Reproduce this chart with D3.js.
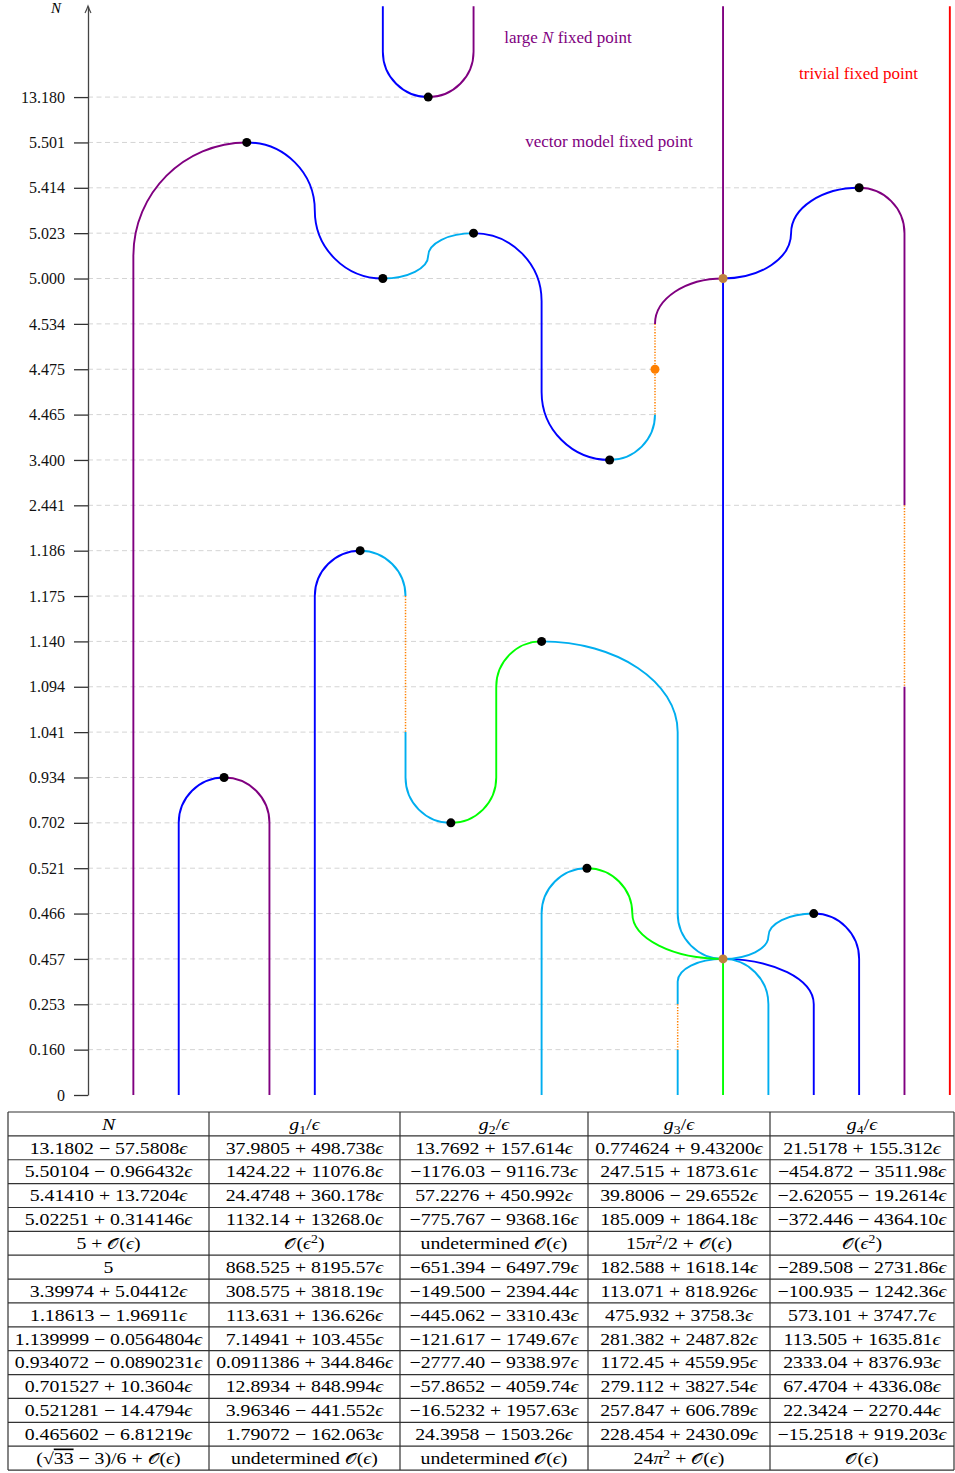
<!DOCTYPE html>
<html>
<head>
<meta charset="utf-8">
<script src="https://cdn.jsdelivr.net/npm/d3@7"></script>
<style>
  body { margin: 0; background: #fff; }
  text { font-family: "Liberation Serif", "DejaVu Serif", serif; }
</style>
</head>
<body>
<div id="chart"></div>
<script>
// N values on the vertical axis (one row each, bottom to top)
let levels = ["0", "0.160", "0.253", "0.457", "0.466", "0.521", "0.702", "0.934", "1.041", "1.094",
              "1.140", "1.175", "1.186", "2.441", "3.400", "4.465", "4.475", "4.534", "5.000", "5.023",
              "5.414", "5.501", "13.180"];
// column where the dashed guide of each row stops
let guideEnds = [null, 13, 13, 14, 16, 11, 8, 3, 7, 18, 10, 7, 6, 18, 11.5, 12.5, 12.5, 12.5, 14, 8.5, 17, 3.5, 7.5];

// branches in (column, row) units: kind, start, then steps
// "v" straight, "hv" leaves horizontally and arrives vertically, "vh" the other way round
let branches = [
  ["violet", [1, 0], ["v", 1, 18.5], ["vh", 3.5, 21]],
  ["violet", [3, 7], ["hv", 4, 6], ["v", 4, 0]],
  ["violet", [7.5, 22], ["hv", 8.5, 23], ["v", 8.5, 24]],
  ["violet", [12.5, 17], ["vh", 14, 18]],
  ["violet", [14, 24], ["v", 14, 18]],
  ["violet", [17, 20], ["hv", 18, 19], ["v", 18, 13]],
  ["violet", [18, 9], ["v", 18, 0]],
  ["blue", [3.5, 21], ["hv", 5, 19.5], ["vh", 6.5, 18]],
  ["blue", [6.5, 24], ["v", 6.5, 23], ["vh", 7.5, 22]],
  ["blue", [8.5, 19], ["hv", 10, 17.5], ["v", 10, 15.5], ["vh", 11.5, 14]],
  ["blue", [14, 18], ["hv", 15.5, 19], ["vh", 17, 20]],
  ["blue", [14, 18], ["v", 14, 3]],
  ["blue", [2, 0], ["v", 2, 6], ["vh", 3, 7]],
  ["blue", [5, 0], ["v", 5, 11], ["vh", 6, 12]],
  ["blue", [16, 4], ["hv", 17, 3], ["v", 17, 0]],
  ["blue", [14, 3], ["hv", 16, 2], ["v", 16, 0]],
  ["cyan", [6.5, 18], ["hv", 7.5, 18.5], ["vh", 8.5, 19]],
  ["cyan", [11.5, 14], ["hv", 12.5, 15]],
  ["cyan", [6, 12], ["hv", 7, 11]],
  ["cyan", [7, 8], ["v", 7, 7], ["vh", 8, 6]],
  ["cyan", [10, 10], ["hv", 13, 8], ["v", 13, 4], ["vh", 14, 3]],
  ["cyan", [10, 0], ["v", 10, 4], ["vh", 11, 5]],
  ["cyan", [14, 3], ["hv", 15, 3.5], ["vh", 16, 4]],
  ["cyan", [14, 3], ["hv", 13, 2.5], ["v", 13, 2]],
  ["cyan", [13, 1], ["v", 13, 0]],
  ["cyan", [14, 3], ["hv", 15, 2], ["v", 15, 0]],
  ["green", [8, 6], ["hv", 9, 7], ["v", 9, 9], ["vh", 10, 10]],
  ["green", [11, 5], ["hv", 12, 4], ["vh", 14, 3]],
  ["green", [14, 3], ["v", 14, 0]],
  ["gap", [12.5, 15], ["v", 12.5, 17]],
  ["gap", [7, 11], ["v", 7, 8]],
  ["gap", [18, 13], ["v", 18, 9]],
  ["gap", [13, 2], ["v", 13, 1]],
  ["trivial", [19, 24], ["v", 19, 0]]
];

let fixedPoints = [[7.5, 22], [3.5, 21], [6.5, 18], [8.5, 19], [17, 20], [11.5, 14],
                   [6, 12], [3, 7], [8, 6], [10, 10], [11, 5], [16, 4]];
let specialPoints = [[12.5, 16, "gap"], [14, 18, "meet"], [14, 3, "meet"]];

let tableHeader = ["N", "g_{1}/ϵ", "g_{2}/ϵ", "g_{3}/ϵ", "g_{4}/ϵ"];
let tableRows = [
  ["13.1802 − 57.5808ϵ", "37.9805 + 498.738ϵ", "13.7692 + 157.614ϵ", "0.774624 + 9.43200ϵ", "21.5178 + 155.312ϵ"],
  ["5.50104 − 0.966432ϵ", "1424.22 + 11076.8ϵ", "−1176.03 − 9116.73ϵ", "247.515 + 1873.61ϵ", "−454.872 − 3511.98ϵ"],
  ["5.41410 + 13.7204ϵ", "24.4748 + 360.178ϵ", "57.2276 + 450.992ϵ", "39.8006 − 29.6552ϵ", "−2.62055 − 19.2614ϵ"],
  ["5.02251 + 0.314146ϵ", "1132.14 + 13268.0ϵ", "−775.767 − 9368.16ϵ", "185.009 + 1864.18ϵ", "−372.446 − 4364.10ϵ"],
  ["5 + 𝒪(ϵ)", "𝒪(ϵ^{2})", "undetermined 𝒪(ϵ)", "15π^{2}/2 + 𝒪(ϵ)", "𝒪(ϵ^{2})"],
  ["5", "868.525 + 8195.57ϵ", "−651.394 − 6497.79ϵ", "182.588 + 1618.14ϵ", "−289.508 − 2731.86ϵ"],
  ["3.39974 + 5.04412ϵ", "308.575 + 3818.19ϵ", "−149.500 − 2394.44ϵ", "113.071 + 818.926ϵ", "−100.935 − 1242.36ϵ"],
  ["1.18613 − 1.96911ϵ", "113.631 + 136.626ϵ", "−445.062 − 3310.43ϵ", "475.932 + 3758.3ϵ", "573.101 + 3747.7ϵ"],
  ["1.139999 − 0.0564804ϵ", "7.14941 + 103.455ϵ", "−121.617 − 1749.67ϵ", "281.382 + 2487.82ϵ", "113.505 + 1635.81ϵ"],
  ["0.934072 − 0.0890231ϵ", "0.0911386 + 344.846ϵ", "−2777.40 − 9338.97ϵ", "1172.45 + 4559.95ϵ", "2333.04 + 8376.93ϵ"],
  ["0.701527 + 10.3604ϵ", "12.8934 + 848.994ϵ", "−57.8652 − 4059.74ϵ", "279.112 + 3827.54ϵ", "67.4704 + 4336.08ϵ"],
  ["0.521281 − 14.4794ϵ", "3.96346 − 441.552ϵ", "−16.5232 + 1957.63ϵ", "257.847 + 606.789ϵ", "22.3424 − 2270.44ϵ"],
  ["0.465602 − 6.81219ϵ", "1.79072 − 162.063ϵ", "24.3958 − 1503.26ϵ", "228.454 + 2430.09ϵ", "−15.2518 + 919.203ϵ"],
  ["(√{33} − 3)/6 + 𝒪(ϵ)", "undetermined 𝒪(ϵ)", "undetermined 𝒪(ϵ)", "24π^{2} + 𝒪(ϵ)", "𝒪(ϵ)"]
];

let colour = d3.scaleOrdinal()
  .domain(["violet", "blue", "cyan", "green", "gap", "trivial", "meet"])
  .range(["#800080", "#0000ff", "#00aeef", "#00ff00", "#ff8000", "#ff0000", "#bf8040"]);

const K = 0.5523;

function go(){
  let width = 955, height = 1473;

  let svg = d3.select("#chart").append("svg")
    .attr("width", width)
    .attr("height", height);

  let x = d3.scaleLinear().domain([0, 19]).range([88, 88 + 19 * 45.36]);
  let y = d3.scaleLinear().domain([0, 24]).range([1095, 1095 - 24 * 45.36]);

  // dashed guides
  svg.append("g").selectAll("line")
    .data(guideEnds.map((e, i) => ({e: e, i: i})).filter(d => d.e != null))
    .enter().append("line")
    .attr("x1", x(0)).attr("x2", d => x(d.e))
    .attr("y1", d => y(d.i)).attr("y2", d => y(d.i))
    .attr("stroke", "#d4d4d4")
    .attr("stroke-width", 1)
    .attr("stroke-dasharray", "5,3.5");

  // axis
  let axis = svg.append("g")
    .attr("transform", "translate(" + x(0) + ",0)")
    .call(d3.axisLeft(y)
      .tickValues(d3.range(levels.length))
      .tickFormat(i => levels[i])
      .tickSize(14)
      .tickPadding(9)
      .tickSizeOuter(0));
  axis.select(".domain").attr("stroke", "#444").attr("stroke-width", 1.3);
  axis.selectAll(".tick line").attr("stroke", "#333").attr("stroke-width", 1.3);
  axis.selectAll(".tick text")
    .attr("font-family", "Liberation Serif")
    .attr("font-size", 16)
    .attr("fill", "#111");
  axis.append("path")
    .attr("d", "M-3,13 Q-1,9 0,6 Q1,9 3,13")
    .attr("fill", "none")
    .attr("stroke", "#444")
    .attr("stroke-width", 1.1);
  svg.append("text")
    .attr("x", 56).attr("y", 13)
    .attr("text-anchor", "middle")
    .attr("font-size", 15)
    .attr("font-style", "italic")
    .text("N");

  // branches
  function branchPath(b){
    let p = d3.path();
    let px = x(b[1][0]), py = y(b[1][1]);
    p.moveTo(px, py);
    b.slice(2).forEach(function(s){
      let nx = x(s[1]), ny = y(s[2]);
      if (s[0] == "v") p.lineTo(nx, ny);
      else if (s[0] == "hv") p.bezierCurveTo(px + K * (nx - px), py, nx, ny - K * (ny - py), nx, ny);
      else p.bezierCurveTo(px, py + K * (ny - py), nx - K * (nx - px), ny, nx, ny);
      px = nx; py = ny;
    });
    return p.toString();
  }

  svg.append("g").selectAll("path")
    .data(branches)
    .enter().append("path")
    .attr("d", branchPath)
    .attr("fill", "none")
    .attr("stroke", d => colour(d[0]))
    .attr("stroke-width", d => d[0] == "gap" ? 1.5 : 1.9)
    .attr("stroke-dasharray", d => d[0] == "gap" ? "1.3,1.5" : null);

  svg.append("g").selectAll("circle")
    .data(fixedPoints)
    .enter().append("circle")
    .attr("cx", d => x(d[0])).attr("cy", d => y(d[1]))
    .attr("r", 4.5)
    .attr("fill", "#000");

  svg.append("g").selectAll("circle")
    .data(specialPoints)
    .enter().append("circle")
    .attr("cx", d => x(d[0])).attr("cy", d => y(d[1]))
    .attr("r", 4.5)
    .attr("fill", d => colour(d[2]));

  // labels
  let large = svg.append("text").attr("x", 568).attr("y", 43)
    .attr("text-anchor", "middle").attr("font-size", 17).attr("fill", colour("violet"));
  large.append("tspan").text("large ");
  large.append("tspan").attr("font-style", "italic").text("N");
  large.append("tspan").text(" fixed point");

  svg.append("text").attr("x", 858.5).attr("y", 79)
    .attr("text-anchor", "middle").attr("font-size", 17).attr("fill", colour("trivial"))
    .text("trivial fixed point");

  svg.append("text").attr("x", 609).attr("y", 146.5)
    .attr("text-anchor", "middle").attr("font-size", 17).attr("fill", colour("violet"))
    .text("vector model fixed point");

  // table
  let colX = [8, 209, 400, 588, 770, 954];
  let top = 1112, rowH = 23.87;
  let allRows = [tableHeader].concat(tableRows);
  let table = svg.append("g");

  allRows.forEach(function(row, r){
    row.forEach(function(cell, c){
      let t = table.append("text")
        .attr("transform", "translate(" + ((colX[c] + colX[c + 1]) / 2) + "," + (top + rowH * r + rowH / 2 + 5.8) + ") scale(1.2,1)")
        .attr("text-anchor", "middle")
        .attr("font-size", 16.5)
        .attr("fill", "#000");
      writeMath(t, cell);
    });
  });

  table.selectAll("line.h")
    .data(d3.range(allRows.length + 1))
    .enter().append("line")
    .attr("x1", colX[0]).attr("x2", colX[colX.length - 1])
    .attr("y1", d => top + d * rowH).attr("y2", d => top + d * rowH)
    .attr("stroke", "#333").attr("stroke-width", 1.2);
  table.selectAll("line.v")
    .data(colX)
    .enter().append("line")
    .attr("x1", d => d).attr("x2", d => d)
    .attr("y1", top).attr("y2", top + rowH * allRows.length)
    .attr("stroke", "#333").attr("stroke-width", 1.2);
}

function writeMath(t, s){
  let parts = s.split(/(\^\{[^}]*\}|_\{[^}]*\}|√\{[^}]*\}|𝒪|[ϵπNg])/u).filter(p => p.length);
  let shift = 0;
  parts.forEach(function(p){
    let dy = -shift;
    shift = 0;
    if (p[0] == "^" || p[0] == "_"){
      let v = p.slice(2, -1);
      shift = p[0] == "^" ? -6 : 4;
      t.append("tspan").attr("dy", dy + shift).attr("font-size", 11.5).text(v);
    } else if (p[0] == "√"){
      t.append("tspan").attr("dy", dy).text("√");
      t.append("tspan").attr("text-decoration", "overline").text(p.slice(2, -1));
    } else if (p == "𝒪"){
      t.append("tspan").attr("dy", dy).attr("font-family", "DejaVu Serif").attr("font-size", 15).text("𝒪");
    } else if ("ϵπNg".indexOf(p) >= 0 && p.length == 1){
      t.append("tspan").attr("dy", dy).attr("font-style", "italic").text(p);
    } else {
      t.append("tspan").attr("dy", dy).text(p);
    }
  });
}

go();
</script>
</body>
</html>
